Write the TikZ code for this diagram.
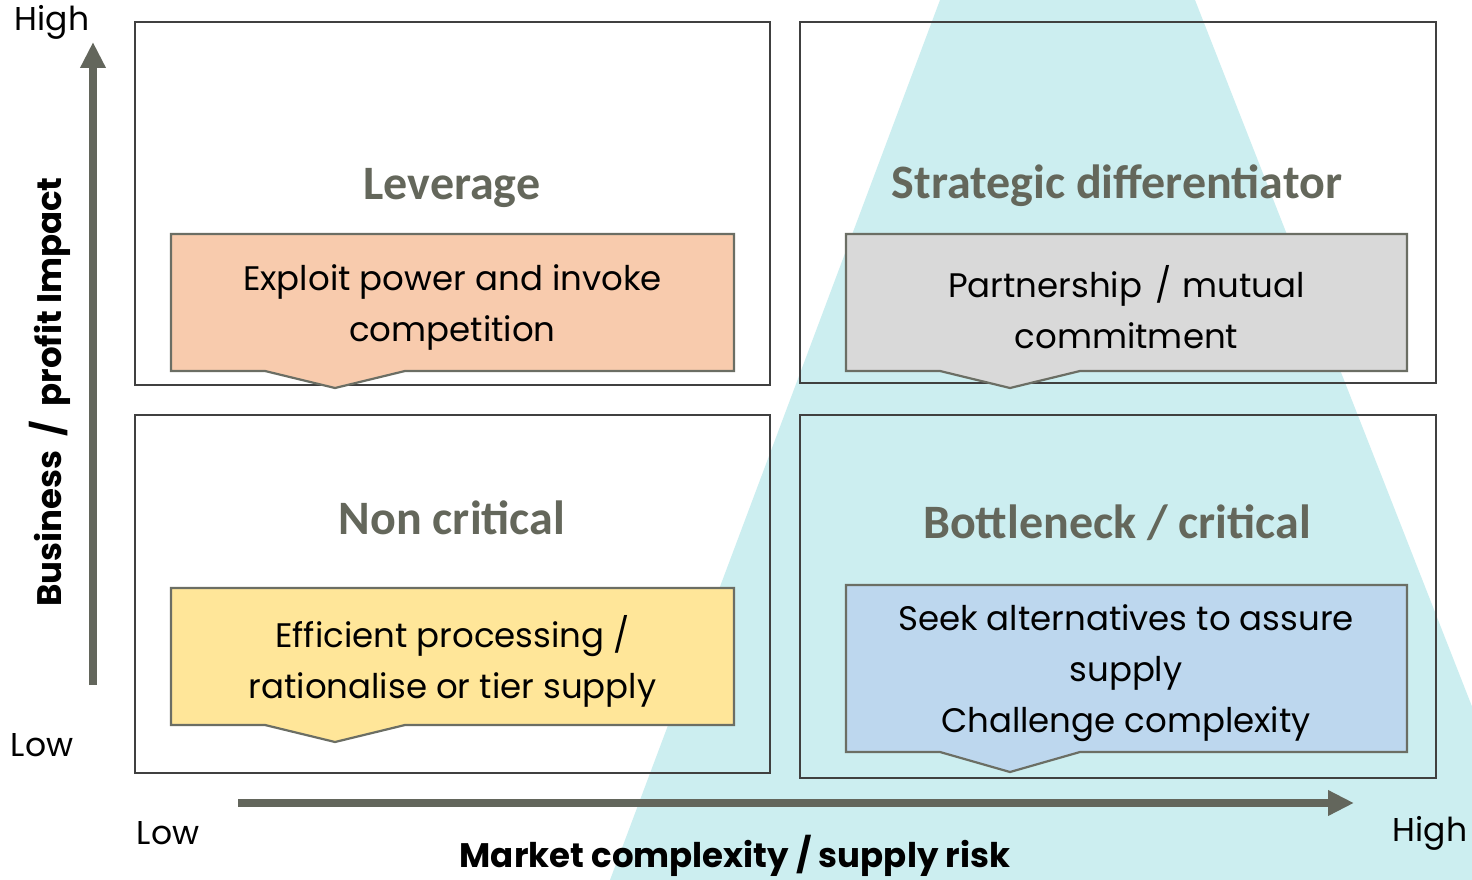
\documentclass[tikz,border=0pt]{standalone}
\usepackage{fontspec}
\setmainfont{Poppins}
\newfontfamily\titlefont{Carlito}
\usetikzlibrary{arrows.meta,calc}
\definecolor{teal}{HTML}{CCEEF0}
\definecolor{framec}{HTML}{404040}
\definecolor{axisc}{HTML}{63665C}
\definecolor{titlec}{HTML}{64675B}
\definecolor{peach}{HTML}{F8CBAD}
\definecolor{greyf}{HTML}{D9D9D9}
\definecolor{yellowf}{HTML}{FFE699}
\definecolor{bluef}{HTML}{BDD7EE}
\definecolor{calloutline}{HTML}{6B6E64}
\tikzset{
  x=1pt,y=-1pt,
  quad/.style={draw=framec,line width=1.5pt},
  callout/.style={draw=calloutline,line width=2.2pt,line join=miter},
  bodytext/.style={align=center,font=\fontsize{34}{51}\selectfont,text=black},
  titletext/.style={font=\titlefont\bfseries\fontsize{48}{54}\selectfont,text=titlec},
  axislabel/.style={font=\fontsize{33}{38}\selectfont,text=black},
  axistitle/.style={font=\bfseries\fontsize{34}{40}\selectfont,text=black},
  axisarrow/.style={draw=axisc,line width=8pt,-{Triangle[width=24pt,length=26pt]}}
}
\newcommand{\mycallout}[7]{%
  \path[callout,fill=#6] (#2,#3) -- (#4,#3) -- (#4,#5) -- ({#2+234},#5) -- ({#2+164},{#5+17}) -- ({#2+94},#5) -- (#2,#5) -- cycle;
  \node[bodytext] (#1) at ({(#2+#4)/2},{(#3+#5)/2+5}) {#7};}
\begin{document}
\begin{tikzpicture}
\useasboundingbox[fill=white] (0,0) rectangle (1472,880);
\begin{scope}
\clip (0,0) rectangle (1472,880);
\fill[teal] (940,0) -- (1195,0) -- (1540,880) -- (610,880) -- cycle;
\end{scope}
% quadrant frames
\draw[quad] (135,22) rectangle (770,385);
\draw[quad] (800,22) rectangle (1436,383);
\draw[quad] (135,415) rectangle (770,773);
\draw[quad] (800,415) rectangle (1436,778);
% titles
\node[titletext] (tlev) at (452,188) {Leverage};
\node[titletext] (tstr) at (1117,186) {Strategic differentiator};
\node[titletext] (tnon) at (452,518) {Non critical};
\node[titletext] (tbot) at (1117,523) {Bottleneck / critical};
% callouts
\mycallout{clev}{171}{234}{734}{371}{peach}{Exploit power and invoke\\competition}
\mycallout{cstr}{846}{234}{1407}{371}{greyf}{Partnership\hspace{4pt} / \hspace{2pt}mutual\\commitment}
\mycallout{cnon}{171}{588}{734}{725}{yellowf}{Efficient processing /\\rationalise or tier supply}
\path[callout,fill=bluef] (846,585) -- (1407,585) -- (1407,752) -- (1080,752) -- (1010,772) -- (940,752) -- (846,752) -- cycle;
\node[bodytext] (cbot) at (1126,673) {Seek alternatives to assure\\supply\\Challenge complexity};
% axes
\coordinate (vstart) at (93,685);
\coordinate (vend) at (93,42);
\coordinate (hstart) at (238,803);
\coordinate (hend) at (1354,803);
\draw[axisarrow] (vstart) -- (vend);
\draw[axisarrow] (hstart) -- (hend);
% axis labels
\node[axislabel] (yhigh) at (52,22) {High};
\node[axislabel] (ylow) at (42,745) {Low};
\node[axislabel] (xlow) at (168,833) {Low};
\node[axislabel] (xhigh) at (1430,833) {High};
\node[axistitle,rotate=90] (ytitle) at (50,392) {Business \ / \ profit Impact};
\node[axistitle] (xtitle) at (735,856) {Market complexity / supply risk};
\end{tikzpicture}
\end{document}
